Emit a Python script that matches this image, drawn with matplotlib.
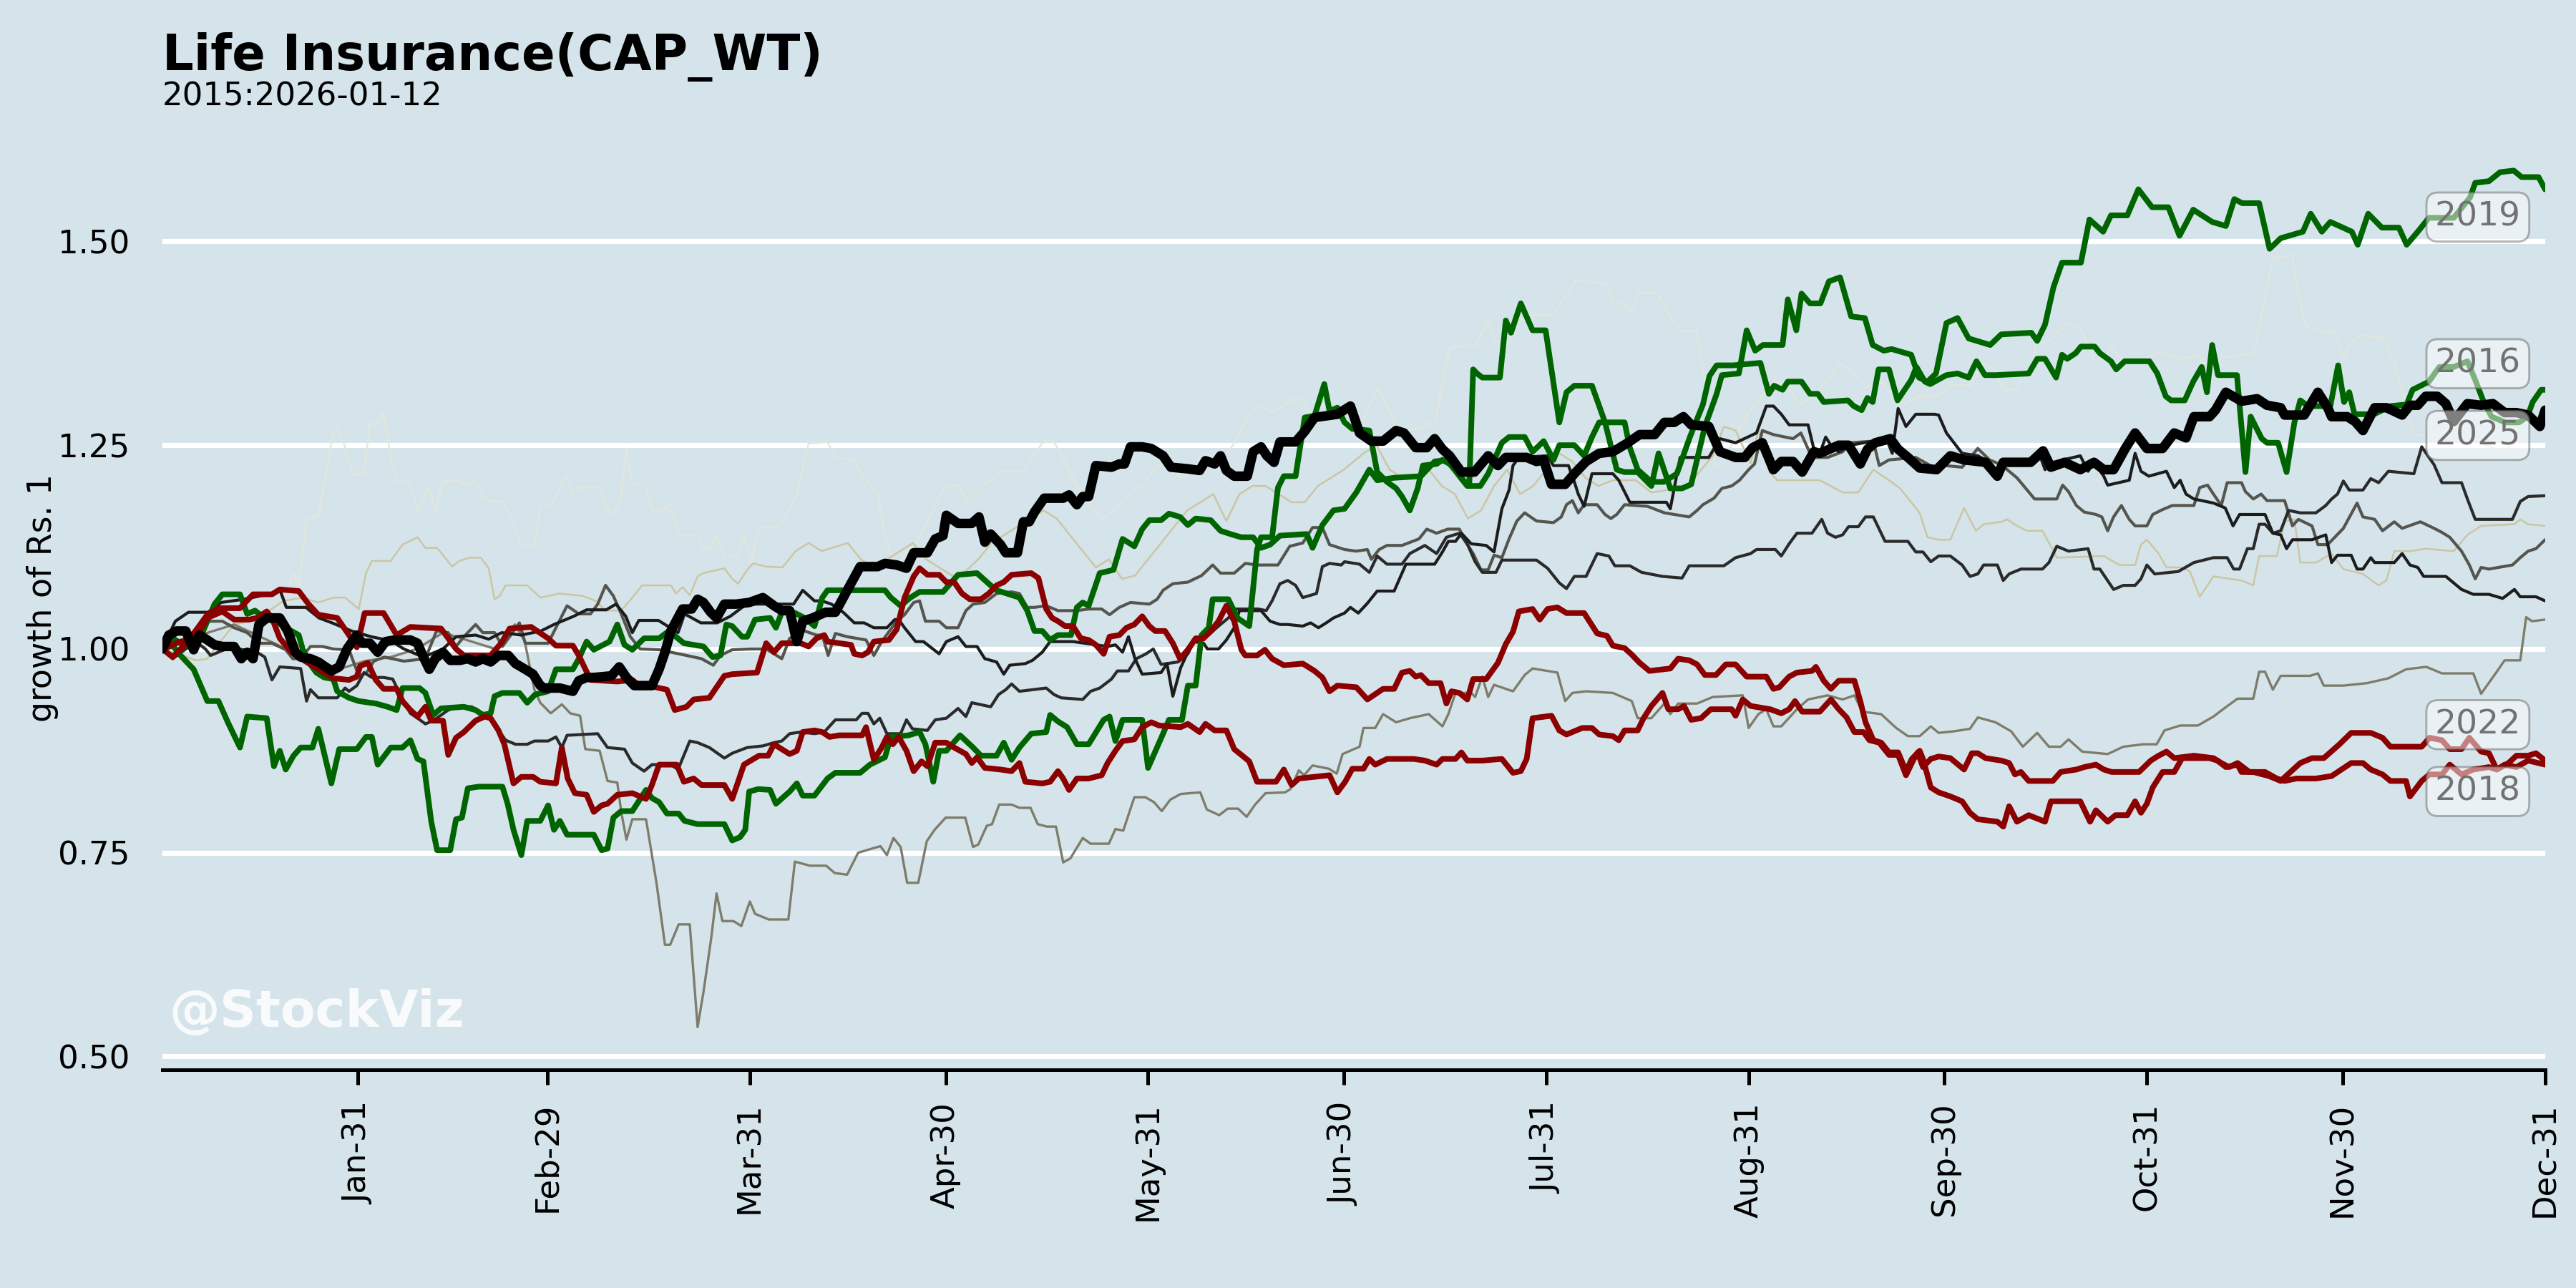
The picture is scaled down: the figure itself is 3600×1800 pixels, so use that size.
import matplotlib.pyplot as plt

bg = '#d5e4eb'

# day-of-year (leap year axis), growth of Rs. 1
s2015 = [(1,1.0),(3,0.99),(6.1,0.984),(7.9,0.992),(12,1.005),(15.5,1.02),(18,1.04),(19.6,1.06),(21.1,1.093),(22,1.078),
         (23.1,1.162),(24.9,1.162),(27,1.258),(27.8,1.273),(29,1.248),(30.2,1.214),(31.9,1.214),(32.8,1.277),(33.7,1.275),
         (34.9,1.29),(36,1.235),(36.9,1.206),(39,1.204),(40.1,1.17),(41.9,1.198),(42.8,1.17),(44,1.206),(46,1.206),(47.2,1.202),
         (49,1.204),(50.1,1.187),(51.3,1.181),(53.1,1.181),(54.8,1.156),(56,1.126),(57.2,1.128),(58,1.126),(58.9,1.175),
         (60.7,1.177),(62.1,1.204),(63,1.212),(63.9,1.191),(64.8,1.198),(68,1.198),(69.2,1.172),(70.1,1.166),(71.3,1.189),
         (72.1,1.246),(73,1.202),(75.1,1.202),(76,1.172),(77.1,1.168),(78.3,1.175),(79.2,1.164),(80.1,1.139),(81.8,1.139),
         (83,1.141),(83.9,1.124),(84.8,1.122),(86,1.137),(87.1,1.114),(88.9,1.114),(90.1,1.139),(91.2,1.105),(92.4,1.149),
         (95.3,1.149),(97.1,1.172),(98.2,1.189),(100,1.252),(102.9,1.254),(104.1,1.235),(107,1.231),(108.2,1.214),(110.6,1.189),
         (111.5,1.147),(112.3,1.122),(113.5,1.101),(114.7,1.114),(116.4,1.13),(118.2,1.156),(119.5,1.18),(121,1.2),(123,1.2),
         (124.4,1.18),(126,1.195),(129.4,1.218),(132.8,1.218),(136.1,1.256),(137.5,1.255),(139,1.235),(140.5,1.21),(142.8,1.18),
         (145,1.16),(147,1.17),(149,1.19),(151,1.2),(153,1.22),(155,1.23),(157,1.21),(159,1.22),(161,1.24),(163,1.23),(165,1.25),
         (167,1.28),(169,1.3),(171,1.29),(173,1.3),(175,1.31),(177,1.29),(179,1.3),(181,1.29),(183,1.3),(185,1.28),(187,1.32),
         (188.6,1.3),(190,1.27),(193,1.27),(196,1.28),(198.2,1.37),(200,1.372),(202,1.372),(204.1,1.4),(205.3,1.378),(207,1.37),
         (208.5,1.4),(210,1.41),(214,1.41),(216.3,1.437),(217.5,1.452),(221,1.45),(222.3,1.448),(223.5,1.42),(224.8,1.427),
         (226,1.415),(227.2,1.437),(230,1.437),(231.8,1.41),(233.5,1.39),(236,1.39),(237.3,1.33),(238.2,1.26),(239,1.225),
         (240,1.227),(242,1.26),(244,1.29),(246,1.31),(248,1.33),(250,1.32),(252,1.3),(254,1.31),(256,1.33),(258,1.35),
         (260,1.34),(262,1.32),(264,1.33),(266,1.31),(268,1.3),(270,1.31),(273,1.31),(275,1.324),(278,1.324),(280,1.35),
         (281.5,1.345),(283,1.318),(285,1.318),(286,1.335),(287.5,1.35),(288,1.375),(289.4,1.375),(293,1.4),(295,1.392),
         (296.9,1.353),(298.4,1.356),(299.6,1.37),(301,1.356),(304.4,1.356),(307,1.363),(310,1.356),(313,1.36),(313.7,1.35),
         (315.5,1.356),(321.3,1.363),(322.5,1.407),(324.3,1.48),(327.3,1.483),(328.2,1.435),(329.4,1.396),(331,1.39),
         (333.9,1.388),(335.1,1.357),(336.3,1.376),(337.8,1.385),(341.1,1.382),(342.9,1.352),(344.1,1.318),(345.9,1.262),
         (350.2,1.262),(352,1.28),(355,1.26),(357,1.25),(360,1.24),(362,1.28),(364,1.3),(366,1.3)]

s2017 = [(1,1.0),(3,0.995),(6.1,0.986),(7.9,0.988),(10,1.01),(12,1.03),(15,1.035),(17,1.045),(19.6,1.059),(22.5,1.063),
         (24.9,1.057),(27.2,1.063),(29,1.063),(31.1,1.049),(32.2,1.093),(33.1,1.108),(36,1.108),(37.8,1.128),(40.1,1.137),
         (41.3,1.124),(43.1,1.124),(45.4,1.101),(46.5,1.108),(48.1,1.112),(49.8,1.112),(51,1.099),(51.9,1.061),(52.7,1.065),
         (53.6,1.078),(56.9,1.078),(58.9,1.063),(61.9,1.068),(65.4,1.065),(67.4,1.059),(68.9,1.047),(71.3,1.047),(73,1.063),
         (74.5,1.078),(78.9,1.078),(79.7,1.068),(80.7,1.076),(81.8,1.066),(83,1.089),(83.9,1.093),(87.1,1.099),(88.3,1.086),
         (89.2,1.08),(90.6,1.097),(91.5,1.105),(93.5,1.101),(96,1.1),(98,1.12),(100,1.13),(102,1.12),(104,1.125),(106,1.13),
         (108,1.11),(110,1.1),(112,1.11),(114,1.12),(116,1.13),(118,1.11),(120,1.1),(122,1.09),(124,1.095),(126,1.11),
         (128,1.13),(130,1.14),(132,1.15),(134,1.16),(136,1.17),(138,1.16),(140,1.14),(142,1.12),(144,1.1),(146,1.11),
         (148,1.086),(150,1.09),(152,1.11),(154,1.13),(156,1.15),(158,1.17),(160,1.18),(162,1.19),(164,1.157),(166,1.19),
         (168,1.2),(170,1.2),(172,1.19),(174,1.18),(176,1.18),(178,1.2),(180,1.21),(182,1.22),(185,1.24),(187,1.25),(189,1.22),
         (191,1.21),(193,1.21),(195,1.22),(197,1.2),(199,1.19),(201,1.16),(203,1.17),(205,1.2),(207,1.22),(209,1.19),(211,1.2),
         (213,1.22),(215,1.24),(217,1.23),(219,1.21),(221,1.2),(223.2,1.207),(226.7,1.207),(229.1,1.192),(233.2,1.197),
         (234.9,1.202),(238.5,1.237),(240.2,1.273),(242,1.268),(244.3,1.228),(245.5,1.268),(247.2,1.217),(248.4,1.207),
         (254.9,1.207),(258.4,1.192),(260.8,1.192),(263.1,1.22),(265.5,1.207),(267.2,1.197),(270.2,1.167),(271.4,1.137),
         (273.1,1.134),(274.9,1.134),(277,1.173),(278.8,1.145),(280,1.153),(282.7,1.156),(283.6,1.159),(285.1,1.151),
         (286.6,1.145),(289,1.145),(290.3,1.126),(291.2,1.112),(298.4,1.114),(300.8,1.103),(303.2,1.103),(304.1,1.128),
         (305,1.134),(306.8,1.117),(308,1.1),(310.4,1.1),(311.6,1.095),(313.1,1.064),(315.2,1.089),(319.5,1.084),(321.3,1.078),
         (322.2,1.114),(324.9,1.114),(326.1,1.156),(327.6,1.159),(328.5,1.106),(330.9,1.106),(333.3,1.117),(335.1,1.098),
         (338.1,1.092),(340.5,1.078),(341.7,1.084),(342.9,1.12),(345.3,1.12),(347.7,1.123),(352,1.12),(354.1,1.14),
         (356.2,1.151),(361.3,1.153),(362.2,1.159),(363.4,1.153),(366,1.151)]

s2020 = [(1,1.0),(4,1.01),(8,1.02),(12,1.03),(16,1.015),(20,1.0),(24,0.99),(28,0.975),(32,0.985),(36,0.99),(40,1.0),
         (44,1.02),(48,1.01),(52,1.0),(55,1.03),(56.5,1.01),(58,0.95),(58.9,0.934),(60.5,0.921),(62.2,0.932),(63.5,0.921),
         (65,0.918),(65.8,0.877),(68,0.875),(69.2,0.838),(70.7,0.836),(71.3,0.8),(72.1,0.766),(73,0.791),(75.1,0.791),
         (76.7,0.713),(78,0.637),(78.8,0.637),(80.1,0.662),(81.8,0.662),(83,0.536),(83.9,0.579),(85.1,0.646),(85.9,0.7),
         (86.8,0.666),(88.5,0.666),(89.7,0.66),(91,0.69),(91.8,0.675),(93.9,0.668),(96.9,0.668),(97.9,0.739),(100.2,0.734),
         (102.7,0.734),(104,0.725),(105.9,0.723),(107.6,0.75),(111,0.758),(112,0.747),(113,0.768),(114.1,0.757),(115.1,0.713),
         (116.8,0.713),(118.1,0.764),(119.3,0.778),(121,0.793),(124,0.793),(125.2,0.757),(126,0.76),(127.3,0.783),(128.1,0.785),
         (129.2,0.809),(131.1,0.809),(132.3,0.805),(134,0.805),(135.1,0.785),(136.5,0.782),(137.9,0.782),(139,0.738),
         (140.1,0.743),(142,0.768),(143.2,0.761),(146,0.761),(147,0.779),(148.2,0.777),(149.9,0.818),(151.6,0.818),
         (152.9,0.812),(154.1,0.801),(155.4,0.815),(157,0.822),(160,0.824),(161,0.803),(162.9,0.796),(164.2,0.804),
         (165.8,0.804),(167.1,0.794),(168.4,0.809),(170,0.823),(173,0.824),(173.8,0.828),(175.1,0.851),(175.9,0.845),
         (177.2,0.857),(179.7,0.853),(180.9,0.847),(181.8,0.871),(184.4,0.88),(185,0.903),(186.8,0.903),(188,0.92),(190,0.91),
         (192.1,0.915),(195,0.92),(197.1,0.905),(198,0.92),(199.1,0.946),(201.5,0.946),(202.1,0.941),(203.2,0.966),
         (204.1,0.941),(205,0.956),(207.9,0.948),(209.7,0.968),(210.9,0.976),(214.7,0.971),(215.9,0.936),(217,0.946),
         (219.1,0.948),(223.2,0.946),(226.1,0.936),(227,0.915),(229.1,0.915),(231.1,0.933),(232,0.92),(233.2,0.933),
         (236.1,0.933),(238.5,0.941),(243.1,0.943),(244,0.903),(245.5,0.92),(246.7,0.926),(247.8,0.905),(249,0.905),
         (251.4,0.926),(253.1,0.938),(256.1,0.943),(258.4,0.938),(260.2,0.943),(261.4,0.923),(264.3,0.92),(266.6,0.903),
         (268.4,0.893),(270.2,0.893),(271.9,0.905),(273.1,0.897),(275.5,0.899),(277.9,0.902),(279.1,0.916),(281.8,0.91),
         (284.2,0.899),(286,0.88),(288.2,0.897),(290,0.88),(291.8,0.88),(293,0.889),(295.1,0.874),(299,0.871),(301.4,0.88),
         (304.4,0.883),(306.5,0.883),(307.7,0.9),(310.1,0.906),(312.8,0.906),(315.2,0.917),(317,0.928),(318.9,0.939),
         (321.3,0.939),(322.2,0.972),(323.1,0.972),(324.3,0.95),(325.5,0.967),(330,0.967),(331.2,0.97),(332.1,0.955),
         (335.1,0.955),(338.7,0.958),(342,0.964),(344.7,0.975),(347.8,0.978),(350.2,0.97),(355,0.97),(356.2,0.945),
         (358.6,0.972),(359.8,0.986),(362.2,0.986),(363.1,1.039),(364,1.034),(366,1.036)]

s2021 = [(1,1.0),(4,1.01),(7.9,1.034),(10.2,1.034),(12,1.026),(14,1.02),(15.8,1.007),(17.8,1.007),(19.9,0.999),(21,0.988),
         (22.2,0.988),(23.7,1.003),(25.5,1.003),(27.2,1.0),(29.6,0.999),(31.1,0.967),(32.2,0.97),(33.4,0.985),(35,0.99),
         (38,0.985),(41.3,0.988),(43,1.022),(44.8,1.02),(46,1.003),(47.2,1.015),(49,1.03),(50.1,1.02),(51.9,1.02),(53.1,1.003),
         (54.2,1.015),(55.7,1.032),(56.6,1.007),(60.1,1.007),(61.3,1.026),(63,1.053),(64.8,1.043),(66.6,1.043),(67.7,1.055),
         (68.9,1.078),(70.1,1.065),(71.3,1.043),(72.7,1.015),(74.2,1.0),(77.1,0.999),(78.9,0.996),(81.3,0.992),(83.6,0.988),
         (85.4,0.98),(86.5,0.992),(88.3,0.999),(91.2,1.0),(93.5,1.0),(95.9,0.988),(97.1,1.013),(99.4,1.022),(101.2,1.017),
         (102.1,1.017),(103,0.992),(104.1,1.019),(105.9,1.015),(108.8,1.011),(110,0.992),(111.2,1.009),(113.5,1.034),
         (114.7,1.042),(116.1,1.057),(117,1.059),(117.9,1.034),(120,1.034),(121.1,1.026),(122.9,1.026),(124.1,1.047),
         (125.2,1.055),(127,1.057),(128.8,1.068),(131.1,1.07),(132.3,1.068),(133.5,1.051),(134.6,1.051),(136.4,1.053),
         (138.2,1.047),(141.1,1.047),(142.9,1.049),(144.9,1.049),(146.1,1.042),(147.6,1.051),(149.3,1.057),(152.2,1.055),
         (153.4,1.061),(154.3,1.072),(155.8,1.08),(158.1,1.082),(160.2,1.09),(161.9,1.103),(163.1,1.093),(165.2,1.093),
         (166.9,1.105),(168.7,1.103),(171.9,1.103),(173.7,1.126),(175.7,1.13),(177.2,1.149),(178.7,1.149),(179.8,1.128),
         (182.1,1.122),(183.9,1.12),(185.6,1.122),(186.2,1.11),(187.4,1.122),(188.6,1.127),(190.9,1.127),(193.5,1.135),
         (194.7,1.147),(196.2,1.142),(197.9,1.147),(199.7,1.147),(200.6,1.132),(201.8,1.117),(203,1.097),(204.1,1.097),
         (205,1.115),(206.2,1.112),(207.3,1.135),(208.5,1.157),(209.7,1.167),(211.5,1.157),(214.1,1.155),(215.3,1.162),
         (216.1,1.177),(217,1.182),(217.9,1.167),(218.8,1.177),(220.8,1.177),(222,1.165),(222.9,1.16),(223.8,1.165),
         (225,1.177),(228.5,1.175),(231.1,1.167),(234.9,1.162),(236.1,1.17),(237,1.177),(238.7,1.185),(239.9,1.197),
         (241.4,1.2),(242.6,1.207),(244,1.22),(244.9,1.227),(246.1,1.268),(247.8,1.263),(250.8,1.258),(252,1.265),
         (253.7,1.235),(256.1,1.235),(258.4,1.242),(259.6,1.253),(263.1,1.255),(264,1.225),(265.5,1.232),(269.6,1.235),
         (272.5,1.222),(274.1,1.225),(276.7,1.223),(279.1,1.246),(280.9,1.232),(282.7,1.226),(285.1,1.21),(287.8,1.184),
         (291.2,1.184),(292.1,1.201),(293,1.193),(294.2,1.176),(295.4,1.168),(297.2,1.165),(298.1,1.162),(299,1.145),
         (299.9,1.162),(301.1,1.176),(302.3,1.159),(303.2,1.151),(305,1.151),(305.9,1.165),(307.4,1.171),(308.9,1.176),
         (312.2,1.176),(313.1,1.198),(314.3,1.201),(315.2,1.19),(316.4,1.176),(317.3,1.204),(319.5,1.204),(320.1,1.193),
         (321.3,1.184),(322.5,1.19),(323.4,1.182),(326.1,1.182),(327.3,1.151),(328.2,1.159),(330.3,1.151),(331.2,1.128),
         (332.7,1.128),(335.1,1.148),(337.2,1.179),(338.1,1.162),(339.9,1.159),(341.1,1.145),(342.9,1.156),(344.1,1.148),
         (346.9,1.156),(349,1.148),(350.2,1.143),(351.4,1.137),(353.2,1.12),(354.4,1.103),(355.3,1.086),(356.2,1.1),
         (357.4,1.098),(361,1.103),(362.2,1.112),(363.4,1.12),(364.6,1.123),(366,1.134)]

s2023 = [(1,1.0),(2.6,0.988),(4.6,1.0),(6.1,1.009),(7.6,1.0),(8.4,0.992),(10.8,1.0),(12.9,1.0),(15.5,0.996),(16.7,0.99),
         (17.8,0.962),(19,0.978),(22.2,0.976),(23.1,0.936),(23.7,0.95),(24.9,0.94),(27.8,0.94),(29,0.952),(29.6,0.948),
         (30.8,0.955),(31.9,0.971),(33.1,0.965),(34.9,0.965),(36.3,0.963),(37.8,0.938),(39,0.921),(40.1,0.915),(41.3,0.908),
         (42.5,0.912),(44.8,0.925),(46.6,0.929),(48.4,0.929),(50.1,0.921),(51.3,0.917),(52.5,0.9),(53.6,0.888),(55.1,0.883),
         (56.9,0.883),(58,0.887),(60.1,0.887),(61.3,0.892),(62.2,0.879),(63,0.894),(67.7,0.896),(69.2,0.879),(71.8,0.877),
         (73,0.86),(74.8,0.85),(76,0.858),(78.9,0.858),(80,0.852),(81.8,0.887),(83,0.885),(84.8,0.879),(87.1,0.866),
         (88.3,0.872),(90.6,0.879),(93,0.881),(94.7,0.885),(95.9,0.887),(97.1,0.896),(98.8,0.898),(100.9,0.896),(102.4,0.898),
         (104.1,0.913),(107.3,0.913),(108.2,0.921),(109.1,0.921),(110,0.908),(110.9,0.915),(112,0.896),(114.1,0.896),
         (115,0.913),(115.9,0.902),(118.2,0.9),(119.4,0.913),(121.1,0.915),(122.9,0.927),(124.1,0.917),(125,0.934),
         (127.9,0.929),(129.1,0.944),(130.2,0.95),(131.1,0.957),(132.3,0.948),(136.4,0.952),(137.6,0.944),(138.7,0.94),
         (142,0.938),(143.2,0.948),(144.6,0.952),(146.4,0.963),(147.3,0.973),(149,0.973),(150.2,0.988),(151.7,0.994),
         (152.8,1.0),(154,0.981),(156.6,0.984),(158.1,0.994),(159.3,1.013),(161.3,1.017),(162.5,1.026),(164.3,1.038),
         (165.5,1.049),(168.9,1.049),(170.1,1.047),(171,1.059),(172.2,1.08),(173.4,1.084),(174.6,1.078),(175.7,1.063),
         (177.8,1.068),(178.7,1.101),(179.8,1.105),(181.6,1.103),(182.1,1.107),(184.4,1.104),(185.9,1.094),(187.1,1.114),
         (188.6,1.104),(190.9,1.104),(192.1,1.117),(194.4,1.127),(196.2,1.117),(197.7,1.137),(199.7,1.142),(200.9,1.129),
         (202.1,1.107),(203.2,1.094),(205.3,1.094),(206.2,1.109),(211.5,1.109),(213.2,1.099),(215,1.081),(216.1,1.074),
         (217.3,1.089),(219.1,1.089),(220.8,1.117),(222.6,1.114),(223.5,1.102),(225.8,1.102),(227.6,1.094),(230.8,1.089),
         (233.8,1.087),(234.9,1.102),(240.2,1.102),(242,1.112),(244.3,1.117),(245.2,1.122),(248.1,1.122),(249,1.114),
         (250.2,1.129),(251.4,1.142),(253.7,1.142),(255.2,1.159),(256.1,1.142),(257.3,1.137),(258.4,1.14),(259.3,1.15),
         (260.8,1.15),(261.9,1.162),(263.1,1.162),(264.9,1.132),(268.4,1.132),(269.6,1.119),(270.7,1.119),(271.9,1.107),
         (273.1,1.114),(274.9,1.114),(276.7,1.103),(277.9,1.089),(279.1,1.092),(280,1.103),(282.1,1.103),(283,1.084),
         (283.9,1.092),(285.7,1.098),(289,1.098),(290,1.106),(291.2,1.126),(293,1.12),(296,1.123),(296.9,1.098),(297.8,1.098),
         (299.9,1.073),(301.4,1.078),(303.2,1.078),(304.1,1.086),(305,1.103),(306.2,1.092),(309.8,1.095),(312.2,1.106),
         (315.2,1.112),(317.3,1.112),(318.3,1.098),(319.2,1.098),(320.4,1.123),(321.3,1.123),(322.2,1.153),(323.1,1.153),
         (324.3,1.142),(325.5,1.145),(326.7,1.17),(328.5,1.167),(330.9,1.167),(332.4,1.176),(333.3,1.184),(334.2,1.19),
         (335.1,1.206),(336,1.195),(338.1,1.195),(339.3,1.209),(340.5,1.204),(342,1.218),(345.9,1.215),(347.1,1.248),
         (349,1.226),(350.2,1.204),(353.2,1.204),(354.1,1.184),(355.3,1.159),(361,1.159),(362.2,1.181),(363.4,1.187),
         (366,1.188)]

s2024 = [(1,1.0),(3,1.034),(5,1.045),(8,1.045),(10,1.057),(13.5,1.061),(17.8,1.068),(19,1.073),(20,1.051),(23,1.051),
         (25,1.038),(27,1.032),(30,1.022),(33,1.015),(36,1.01),(38,1.0),(41,0.99),(44,1.0),(46,1.015),(49,1.017),(51,1.012),
         (53,1.02),(56,1.017),(59,1.022),(61,1.03),(64,1.04),(66,1.048),(69,1.048),(70.5,1.055),(72,1.04),(73,1.02),(74,1.035),
         (77,1.035),(79,1.025),(80,1.02),(81,1.043),(83.5,1.032),(86,1.032),(88,1.04),(90.5,1.055),(95.9,1.055),(97.7,1.055),
         (99.1,1.072),(100.9,1.059),(102,1.059),(103.5,1.055),(105.3,1.045),(107,1.032),(108.5,1.032),(110,1.026),(112,1.026),
         (113.2,1.036),(113.8,1.036),(114.7,1.026),(116.4,1.009),(117.6,1.009),(120,0.994),(121.1,1.009),(122.9,1.015),
         (124.1,1.003),(125.8,1.003),(127,0.988),(128.8,0.984),(129.9,0.969),(130.8,0.98),(133.2,0.982),(134.3,0.986),
         (135.8,0.996),(137,1.009),(140.5,1.009),(142.3,1.007),(145.8,1.003),(147,1.005),(148.1,0.996),(149,1.015),(150,0.988),
         (151.1,0.969),(154,0.971),(154.9,0.982),(155.8,0.942),(157,0.977),(158.1,0.996),(159,1.009),(160.5,1.007),(161.1,1.0),
         (162.8,1.0),(164,1.011),(165.2,1.026),(166,1.047),(169.3,1.047),(170.7,1.034),(172.2,1.03),(173.4,1.03),(175.7,1.028),
         (176.9,1.032),(178.1,1.026),(179.3,1.032),(180.4,1.038),(182.1,1.044),(183,1.051),(184.2,1.044),(185.6,1.056),
         (187.1,1.071),(189.7,1.071),(191.5,1.104),(195.9,1.104),(197.1,1.119),(198,1.132),(199.1,1.132),(200,1.142),
         (201.5,1.129),(203.8,1.127),(205,1.119),(206.2,1.172),(207.3,1.195),(207.9,1.225),(208.8,1.235),(213.2,1.237),
         (214.1,1.225),(216.4,1.225),(217.3,1.205),(217.9,1.19),(218.8,1.175),(220,1.215),(223.2,1.215),(224.1,1.207),
         (225.8,1.18),(231.4,1.18),(232,1.172),(233.5,1.235),(237.9,1.235),(239.6,1.258),(242,1.253),(245.2,1.265),
         (246.7,1.298),(247.8,1.298),(249,1.288),(250.2,1.275),(253.1,1.275),(254,1.245),(254.9,1.24),(255.8,1.26),
         (256.6,1.25),(257.8,1.242),(259.6,1.25),(265.1,1.258),(266,1.24),(266.9,1.295),(268.1,1.273),(269.6,1.288),
         (272.5,1.288),(273.1,1.287),(274.3,1.265),(276.7,1.24),(279.1,1.237),(280.9,1.229),(281.8,1.212),(283,1.229),
         (287.5,1.229),(288.5,1.24),(289.4,1.22),(290.6,1.229),(294.8,1.237),(296,1.218),(296.9,1.229),(298.4,1.212),
         (299,1.201),(302.3,1.207),(303.2,1.24),(304.1,1.218),(305.3,1.212),(308,1.218),(309.2,1.198),(310.1,1.207),
         (311,1.19),(312.2,1.184),(315.2,1.179),(317,1.173),(318.2,1.151),(319.2,1.165),(323.1,1.165),(324.3,1.142),
         (325.5,1.14),(326.4,1.123),(327.3,1.134),(330.3,1.134),(332.4,1.14),(333.3,1.106),(334.2,1.115),(336.3,1.115),
         (337.2,1.098),(338.1,1.098),(339.3,1.112),(339.9,1.106),(342.9,1.106),(344.1,1.117),(345.3,1.103),(346.5,1.1),
         (347.4,1.089),(350.8,1.089),(353.2,1.073),(355,1.067),(357.4,1.067),(359.5,1.062),(361.3,1.073),(362.2,1.064),
         (364.6,1.064),(366,1.059)]

s2016 = [(1,1.0),(2.6,1.013),(3.8,1.007),(6.1,1.0),(9,1.055),(10.2,1.067),(12.9,1.067),(14,1.043),(15.2,1.047),(17,1.036),
         (18.4,1.034),(19.9,1.026),(21.9,1.017),(22.5,1.0),(23.4,0.984),(24.6,0.971),(25.8,0.965),(27.2,0.963),(27.8,0.948),
         (29.6,0.94),(31.1,0.936),(33.7,0.933),(35.5,0.929),(36.9,0.925),(37.8,0.952),(40.4,0.952),(41.3,0.946),(42.5,0.919),
         (43.7,0.927),(47.2,0.929),(49,0.925),(50.1,0.919),(51.3,0.921),(51.9,0.942),(53.1,0.946),(55.7,0.946),(56.9,0.934),
         (58.1,0.944),(60.1,0.948),(61.3,0.975),(63.9,0.975),(64.8,0.988),(66,1.009),(67.1,0.999),(69.5,1.009),(70.7,1.03),
         (71.8,1.005),(73,0.999),(74.8,1.013),(77.1,1.013),(78.6,1.022),(80.9,1.007),(83.9,1.003),(85.3,0.99),(86.5,0.992),
         (87.4,1.03),(88.3,1.028),(89.8,1.015),(90.6,1.015),(91.8,1.036),(94.1,1.038),(95,1.026),(95.9,1.045),(97.7,1.045),
         (99.4,1.038),(100.9,1.028),(102.1,1.063),(102.9,1.072),(111.7,1.072),(112.6,1.063),(114.1,1.053),(115.6,1.063),
         (117,1.07),(120.6,1.07),(122.9,1.091),(125.8,1.093),(127.6,1.08),(128.8,1.072),(132.3,1.063),(133.5,1.047),
         (134.6,1.022),(135.8,1.022),(137,1.011),(138.2,1.017),(140.2,1.017),(141.1,1.051),(142,1.057),(142.9,1.053),
         (144.6,1.093),(146.7,1.097),(148.1,1.135),(149.9,1.126),(151.1,1.147),(152.2,1.158),(154,1.158),(155.2,1.166),
         (156.9,1.162),(158.1,1.152),(159.3,1.16),(161.6,1.158),(163.1,1.145),(164.6,1.141),(166.3,1.137),(168.1,1.137),
         (169.3,1.124),(170.7,1.128),(172.2,1.139),(176.3,1.141),(177.2,1.124),(178.7,1.152),(180.4,1.17),(182.1,1.172),
         (183.9,1.192),(185.9,1.22),(187.1,1.207),(189.7,1.21),(193.8,1.212),(195.9,1.23),(197.9,1.232),(199.7,1.212),
         (200.9,1.2),(202.9,1.2),(204.1,1.215),(206.2,1.253),(207.3,1.26),(209.7,1.26),(210.9,1.242),(212.6,1.255),
         (214.1,1.232),(215,1.25),(217.3,1.25),(218.8,1.237),(220,1.26),(221.1,1.278),(225,1.278),(225.8,1.247),(227,1.22),
         (229.1,1.205),(231,1.205),(233,1.215),(235,1.26),(237,1.3),(238,1.335),(239.1,1.348),(241.6,1.348),(245.8,1.351),
         (247.1,1.313),(247.9,1.323),(249.2,1.318),(250,1.328),(252.1,1.328),(253.4,1.313),(254.6,1.313),(255.5,1.303),
         (259.2,1.305),(260.1,1.298),(261.3,1.293),(262.2,1.308),(263,1.303),(263.9,1.343),(265.5,1.343),(266.8,1.305),
         (268.9,1.33),(269.7,1.346),(271,1.328),(271.8,1.325),(274.3,1.336),(276,1.338),(277.7,1.333),(278.9,1.353),
         (280.2,1.336),(281.9,1.336),(286.9,1.338),(288.2,1.356),(289.4,1.356),(291.1,1.333),(292,1.361),(292.8,1.356),
         (294.1,1.363),(294.9,1.371),(297,1.371),(297.8,1.363),(299.5,1.353),(300.3,1.343),(301.6,1.353),(305.4,1.353),
         (306.6,1.338),(307.9,1.31),(308.7,1.305),(310.8,1.305),(312.1,1.328),(313.4,1.346),(314.2,1.315),(315,1.373),
         (315.9,1.336),(318.8,1.336),(320.1,1.217),(320.9,1.285),(322.6,1.258),(323.4,1.253),(325.1,1.253),(326.4,1.217),
         (327.6,1.278),(328.5,1.305),(329.7,1.298),(333.1,1.298),(334.3,1.348),(335.2,1.303),(336,1.315),(336.8,1.288),
         (339.8,1.288),(342.3,1.298),(344.8,1.3),(345.7,1.318),(348.2,1.328),(349.8,1.346),(352,1.346),(354.1,1.353),
         (355.3,1.33),(356.6,1.303),(357.8,1.285),(359.9,1.278),(362,1.278),(363.3,1.285),(364.1,1.303),(365.4,1.318),
         (366,1.318)]

s2019 = [(1,1.0),(2.6,1.004),(3.8,0.992),(5.8,0.975),(7.9,0.936),(9.6,0.936),(11.1,0.909),(12.9,0.879),(14,0.917),(17,0.915),
         (18.1,0.856),(19,0.875),(19.9,0.852),(21.1,0.869),(22.2,0.879),(24,0.879),(24.9,0.902),(26.9,0.835),(28.1,0.877),
         (30.8,0.877),(32.2,0.892),(33.1,0.892),(34,0.858),(36,0.879),(37.8,0.879),(39,0.888),(40.1,0.865),(41,0.862),
         (42.2,0.788),(43.1,0.753),(45.1,0.753),(46,0.791),(46.9,0.793),(47.8,0.829),(49.5,0.831),(53.1,0.831),(53.9,0.81),
         (54.8,0.778),(56,0.747),(56.9,0.789),(58.9,0.789),(60.1,0.808),(61,0.778),(61.9,0.789),(63,0.772),(67.1,0.772),
         (68.3,0.753),(69.2,0.755),(70.1,0.793),(71.3,0.801),(73,0.801),(75.1,0.827),(76,0.817),(77.1,0.812),(78.3,0.798),
         (80.1,0.798),(81,0.789),(83,0.785),(87.1,0.785),(88.3,0.765),(89.5,0.769),(90.3,0.778),(90.9,0.825),(92.3,0.828),
         (94.1,0.827),(95,0.81),(97.1,0.825),(98.2,0.835),(99.1,0.82),(100.9,0.82),(102.9,0.841),(104.1,0.848),(107.9,0.848),
         (109.4,0.858),(111.7,0.867),(112.6,0.892),(115.3,0.894),(117,0.898),(117.9,0.883),(119.1,0.837),(120,0.875),
         (121.1,0.875),(123.2,0.894),(125.2,0.879),(126.4,0.869),(128.8,0.869),(129.9,0.885),(131.1,0.864),(132.3,0.879),
         (134.1,0.896),(136.4,0.898),(137,0.919),(138.2,0.911),(139.6,0.904),(141.1,0.883),(142.9,0.883),(145.2,0.913),
         (146.1,0.917),(147,0.887),(148.1,0.913),(151.1,0.913),(152,0.854),(154.3,0.896),(155.2,0.913),(157.2,0.913),
         (158.1,0.955),(159.3,0.955),(160.2,1.017),(161.3,1.026),(161.9,1.061),(164.3,1.061),(165.7,1.038),(167.5,1.028),
         (168.7,1.122),(169.3,1.137),(171,1.137),(171.9,1.198),(172.8,1.212),(174.6,1.212),(176,1.284),(177.5,1.286),
         (179,1.325),(179.8,1.292),(181,1.296),(182.1,1.278),(183.3,1.27),(185.9,1.268),(187.1,1.217),(188.6,1.205),(190,1.197),
         (190.9,1.187),(192.1,1.17),(193.3,1.197),(194.1,1.225),(196.2,1.227),(197.1,1.232),(198.2,1.227),(200.3,1.207),
         (201.2,1.2),(201.8,1.343),(202.4,1.338),(203.2,1.333),(205.9,1.333),(206.8,1.403),(207.6,1.388),(209.1,1.424),
         (210.9,1.391),(212.9,1.391),(215,1.278),(216.1,1.315),(217.3,1.323),(220,1.323),(222,1.278),(223.8,1.22),(225,1.217),
         (227,1.217),(229.1,1.2),(230.2,1.24),(232,1.197),(233.8,1.197),(235.2,1.202),(237.3,1.273),(239.1,1.313),
         (239.9,1.336),(242.5,1.338),(243.7,1.391),(245,1.366),(246.2,1.373),(249.2,1.373),(250,1.429),(251.3,1.391),
         (252.1,1.436),(253.4,1.424),(255,1.424),(256.3,1.451),(258,1.456),(259.7,1.408),(261.8,1.406),(263,1.373),
         (264.7,1.366),(265.9,1.368),(268.9,1.361),(270.1,1.333),(271.4,1.328),(272.7,1.338),(274.3,1.4),(276,1.406),
         (277.7,1.381),(281,1.373),(282.7,1.386),(287.3,1.388),(288.2,1.378),(289.4,1.398),(290.7,1.444),(292,1.474),
         (294.9,1.474),(296.2,1.527),(298.3,1.512),(299.5,1.532),(302,1.532),(303.7,1.564),(305.8,1.542),(308.3,1.542),
         (310,1.507),(312.1,1.539),(315,1.524),(317.1,1.519),(318.4,1.552),(319.6,1.547),(322.2,1.547),(323.8,1.491),
         (325.5,1.504),(328.9,1.512),(330.1,1.534),(331.8,1.512),(333.1,1.524),(336.4,1.512),(337.3,1.496),(338.9,1.534),
         (341,1.517),(343.6,1.517),(344.8,1.496),(346.5,1.512),(348.2,1.529),(352,1.529),(354.5,1.554),(355.3,1.572),
         (357.4,1.574),(359.1,1.585),(361.2,1.587),(362.4,1.579),(365,1.579),(366,1.564)]

s2022 = [(1,1.0),(2.6,0.99),(3.8,1.0),(5,1.01),(7.9,1.042),(9.6,1.05),(12.9,1.05),(14.9,1.067),(17.8,1.067),(19,1.073),
         (21.9,1.071),(23.4,1.055),(24.9,1.042),(27.8,1.038),(29.6,1.017),(30.8,1.002),(32,1.044),(34.9,1.044),(36.9,1.017),
         (39,1.027),(43.7,1.025),(46,1.0),(47.2,0.992),(51.3,0.992),(53,1.008),(54.2,1.025),(57.5,1.027),(60.1,1.013),
         (61.3,1.004),(63.9,1.004),(64.8,0.992),(66.6,0.962),(70.7,0.96),(73,0.962),(74.2,0.954),(76,0.954),(78.3,0.95),
         (79.5,0.925),(81.3,0.929),(82.4,0.938),(84.8,0.94),(87.1,0.967),(88.3,0.969),(92.1,0.971),(93.5,1.007),(94.7,0.996),
         (95.9,1.007),(98.8,1.007),(100,1.003),(101.2,1.013),(102.4,1.017),(102.9,1.009),(106.5,1.005),(107,0.994),
         (108.2,0.992),(109.1,0.996),(110,1.009),(112.3,1.011),(113.5,1.024),(114.7,1.063),(116.1,1.089),(117,1.099),
         (118.2,1.091),(120,1.091),(121.1,1.082),(122.3,1.082),(123.5,1.068),(124.7,1.061),(126.4,1.061),(127.6,1.068),
         (128.8,1.078),(129.9,1.082),(131.1,1.091),(134.1,1.093),(135.2,1.087),(136.4,1.049),(137.3,1.038),(138.2,1.034),
         (139.3,1.028),(140.5,1.028),(141.7,1.013),(142.9,1.011),(144,1.005),(145.2,0.994),(146.1,1.015),(147.6,1.017),
         (148.7,1.026),(149.9,1.03),(151.1,1.04),(152.2,1.028),(153.1,1.022),(154.6,1.022),(155.8,1.007),(156.9,0.988),
         (158.1,0.999),(159.3,1.013),(160.5,1.013),(161.6,1.022),(162.8,1.034),(164,1.053),(165.2,1.034),(166.3,0.999),
         (166.9,0.992),(168.7,0.992),(169.9,0.999),(171,0.988),(172.8,0.98),(175.7,0.982),(177.5,0.973),(178.7,0.965),
         (179.8,0.948),(181,0.955),(183.9,0.953),(185.6,0.938),(188,0.951),(189.7,0.951),(190.9,0.971),(192.1,0.973),
         (193,0.966),(193.8,0.968),(195,0.958),(196.8,0.958),(197.7,0.933),(198.5,0.948),(199.7,0.946),(200.9,0.938),
         (201.8,0.963),(203.8,0.963),(205.6,0.983),(206.8,1.006),(207.9,1.021),(208.8,1.046),(210.9,1.049),(212,1.036),
         (213.2,1.049),(214.7,1.051),(216.1,1.044),(218.8,1.044),(220,1.029),(220.8,1.019),(222.3,1.016),(223.2,1.004),
         (225,1.001),(226.1,0.993),(227.3,0.983),(228.8,0.973),(232,0.976),(233.2,0.988),(234.9,0.986),(236.1,0.981),
         (237.3,0.968),(239,0.968),(240.5,0.981),(242,0.981),(243.7,0.966),(246.7,0.966),(247.8,0.951),(248.7,0.953),
         (250.2,0.966),(251.4,0.971),(253.7,0.973),(254.3,0.978),(255.5,0.961),(256.6,0.951),(257.8,0.961),(260.2,0.961),
         (261.1,0.936),(261.9,0.91),(263.1,0.888),(264.3,0.885),(265.5,0.873),(266.9,0.873),(268.1,0.85),(269,0.865),
         (270.2,0.875),(270.7,0.865),(271.9,0.83),(273.1,0.824),(274.9,0.819),(276.7,0.813),(277.9,0.799),(279.1,0.791),
         (282.1,0.788),(283,0.782),(283.9,0.807),(285.1,0.788),(286.9,0.796),(289.4,0.788),(290.3,0.813),(294.8,0.813),
         (296.3,0.788),(297.2,0.802),(299,0.788),(300.2,0.796),(302,0.796),(303.2,0.813),(304.1,0.799),(305,0.81),
         (305.9,0.83),(307.4,0.849),(309.2,0.849),(310.4,0.866),(314.6,0.866),(315.8,0.863),(317.1,0.855),(318.9,0.858),
         (319.5,0.849),(321.3,0.849),(323.7,0.844),(325.5,0.838),(328.5,0.86),(330.3,0.866),(332.1,0.866),(334.5,0.883),
         (336.3,0.897),(339.3,0.897),(341.1,0.891),(342.3,0.88),(347.1,0.88),(348.3,0.891),(350.2,0.888),(351.4,0.877),
         (353.2,0.877),(354.4,0.891),(356.2,0.874),(357.4,0.872),(358.6,0.852),(360.4,0.86),(361.6,0.869),(363.4,0.869),
         (364.6,0.872),(366,0.863)]

s2018 = [(1,1.0),(3.8,1.009),(6.1,1.013),(7.9,1.038),(10.2,1.046),(12,1.036),(14.3,1.036),(15.5,1.038),(17,1.046),
         (17.8,1.038),(19,1.013),(20.8,0.996),(22.5,0.987),(24.9,0.975),(27.2,0.964),(29.6,0.962),(30.8,0.966),(31.3,0.979),
         (32.5,0.983),(33.7,0.962),(34.9,0.951),(36.9,0.951),(37.8,0.936),(39,0.925),(40.1,0.917),(41.3,0.929),(42.2,0.912),
         (44,0.912),(44.8,0.87),(46,0.891),(47.2,0.898),(49,0.912),(50.4,0.917),(51.3,0.915),(52.5,0.9),(53.4,0.883),
         (54.8,0.835),(56,0.843),(57.8,0.843),(58.9,0.837),(61.3,0.835),(62.2,0.879),(63.1,0.841),(64.2,0.823),(66,0.821),
         (67.1,0.8),(68.3,0.808),(69.2,0.81),(70.7,0.821),(73,0.823),(75.1,0.816),(76,0.833),(77.1,0.858),(79.8,0.858),
         (80.9,0.837),(82.4,0.841),(83.6,0.833),(87.1,0.833),(88.3,0.816),(89.2,0.837),(90.1,0.858),(92.4,0.869),(93.8,0.869),
         (94.7,0.883),(95.9,0.877),(97.1,0.871),(98.2,0.875),(99.1,0.898),(100.9,0.9),(102.1,0.898),(103.2,0.892),
         (104.7,0.894),(108.2,0.894),(108.8,0.904),(110,0.864),(111.2,0.879),(112,0.892),(112.9,0.883),(113.8,0.892),
         (115,0.875),(116.1,0.85),(117.3,0.862),(118.2,0.856),(119.4,0.885),(121.1,0.885),(122.3,0.879),(124.1,0.871),
         (125,0.86),(125.8,0.867),(127,0.854),(129.4,0.852),(131.1,0.85),(132.3,0.86),(133.2,0.837),(135.8,0.835),
         (137,0.837),(138.2,0.85),(139,0.841),(139.9,0.827),(141.1,0.841),(142.9,0.841),(144.9,0.845),(145.8,0.86),
         (147,0.875),(148.1,0.887),(149.9,0.889),(151.1,0.904),(152.5,0.91),(153.7,0.906),(157,0.904),(158.1,0.908),
         (159.9,0.898),(160.8,0.908),(162.2,0.9),(164,0.9),(165.2,0.877),(166.6,0.868),(167.5,0.862),(168.7,0.837),
         (171.6,0.837),(172.8,0.852),(174,0.833),(175.1,0.841),(179.8,0.845),(181,0.824),(182.2,0.837),(183.3,0.853),
         (185,0.853),(185.9,0.865),(186.8,0.858),(188.6,0.865),(192.7,0.865),(194.4,0.863),(196.2,0.858),(197.1,0.865),
         (199.1,0.865),(200,0.873),(200.9,0.863),(203.2,0.863),(206.2,0.865),(207.9,0.848),(209.1,0.85),(210,0.865),
         (210.9,0.915),(213.8,0.918),(215,0.9),(216.1,0.895),(218.5,0.903),(220,0.903),(221.1,0.895),(223.2,0.893),
         (224.1,0.888),(225,0.9),(227,0.9),(227.9,0.915),(229.1,0.93),(230.8,0.946),(231.7,0.926),(233.2,0.926),(234.1,0.93),
         (235.2,0.913),(236.7,0.915),(238.2,0.926),(241.4,0.926),(242,0.918),(243.1,0.938),(244.3,0.93),(247.3,0.926),
         (249,0.921),(250.2,0.926),(251.1,0.936),(252.2,0.923),(254.9,0.923),(256.6,0.938),(257.8,0.926),(259,0.916),
         (260.2,0.898),(261.6,0.898),(262.5,0.888),(264,0.885),(265.5,0.87),(266.9,0.87),(268.1,0.845),(269.3,0.865),
         (269.9,0.873),(270.7,0.855),(271.9,0.865),(273.1,0.868),(274.9,0.866),(277,0.852),(278.2,0.872),(279.1,0.872),
         (280.3,0.866),(282.7,0.863),(283.9,0.86),(284.8,0.846),(285.7,0.849),(286.9,0.838),(290.6,0.838),(291.8,0.849),
         (294.2,0.852),(295.4,0.855),(297.2,0.858),(298.4,0.852),(299.6,0.849),(303.8,0.849),(305.6,0.863),(306.8,0.869),
         (308,0.874),(309.2,0.866),(312.2,0.869),(315.2,0.866),(316.4,0.86),(317.6,0.855),(318.9,0.86),(320.7,0.849),
         (323.1,0.849),(324.9,0.841),(326.1,0.838),(327.9,0.841),(330.9,0.841),(333.3,0.844),(336.3,0.86),(338.1,0.86),
         (339.3,0.852),(341.1,0.846),(342.3,0.838),(344.7,0.838),(345.3,0.819),(347.1,0.838),(348.3,0.846),(350.2,0.846),
         (351.4,0.858),(353.2,0.846),(355,0.852),(357.4,0.855),(358.6,0.852),(359.8,0.858),(361.6,0.855),(363.4,0.863),
         (366,0.858)]

s2025 = [(1,1.0),(2,1.017),(3.2,1.022),(4.6,1.022),(5.8,0.999),(6.7,1.017),(7.9,1.011),(9,1.005),(10.2,1.003),(12,1.003),
         (13.1,0.988),(14,0.996),(14.9,0.988),(15.8,1.03),(17,1.038),(19,1.038),(20.2,1.022),(21.4,0.996),(22.2,0.99),
         (23.7,0.988),(24.9,0.984),(26.9,0.973),(28.1,0.978),(29.3,1.0),(30.8,1.017),(31.6,1.007),(32.8,1.007),(34,0.996),
         (35.2,1.009),(36.6,1.011),(39,1.011),(40.1,1.007),(41,0.99),(41.9,0.975),(42.8,0.988),(44,0.996),(45.1,0.986),
         (46.6,0.986),(47.8,0.988),(49,0.984),(50.1,0.988),(51.3,0.984),(52.5,0.992),(54,0.992),(55.1,0.982),(56.6,0.975),
         (57.8,0.969),(58.9,0.955),(59.5,0.952),(61.9,0.952),(63.9,0.948),(64.8,0.961),(66,0.965),(67.1,0.965),(69.8,0.967),
         (71,0.978),(72.1,0.965),(73.3,0.955),(76,0.955),(77.1,0.975),(78,0.996),(78.9,1.022),(80.7,1.049),(82.1,1.049),
         (83,1.061),(83.9,1.057),(85,1.045),(85.9,1.038),(87.1,1.055),(88.9,1.055),(90.9,1.057),(93,1.063),(94.7,1.053),
         (95.9,1.047),(97.1,1.047),(98.2,1.009),(99.1,1.034),(100.6,1.038),(102.6,1.045),(104.1,1.045),(107.9,1.101),
         (110.6,1.101),(111.7,1.105),(113.5,1.103),(115,1.099),(116.1,1.118),(118.2,1.118),(119.4,1.135),(120.6,1.139),
         (121.1,1.164),(122.9,1.154),(125,1.154),(126.1,1.162),(127,1.131),(127.9,1.141),(129.4,1.128),(130.2,1.118),
         (132,1.118),(132.9,1.156),(133.8,1.156),(134.6,1.168),(136.1,1.185),(139,1.185),(139.9,1.189),(141.1,1.177),
         (142,1.187),(142.9,1.187),(144,1.225),(146.4,1.223),(147.6,1.227),(148.4,1.227),(149.3,1.248),(151.1,1.248),
         (152.5,1.246),(154.3,1.237),(155.5,1.223),(158.1,1.221),(159.9,1.219),(160.8,1.231),(162.2,1.227),(163.1,1.237),
         (164,1.219),(165.2,1.212),(167.2,1.212),(168.1,1.242),(169.3,1.248),(170.2,1.237),(171.3,1.229),(172.2,1.254),
         (174.6,1.254),(176,1.267),(177.5,1.284),(179.3,1.286),(181,1.288),(183,1.298),(184.4,1.265),(186.2,1.255),
         (188,1.255),(190,1.268),(191.2,1.265),(193,1.247),(194.7,1.247),(195.9,1.258),(197.1,1.245),(198.2,1.237),(200,1.217),
         (202,1.217),(204.1,1.237),(205.6,1.225),(206.8,1.235),(210,1.235),(211.5,1.23),(212.6,1.232),(213.8,1.202),
         (215.9,1.202),(217.3,1.215),(219.1,1.23),(221.1,1.24),(223.2,1.242),(225.5,1.253),(227.3,1.263),(229.6,1.263),
         (231.1,1.278),(232.6,1.278),(234,1.285),(235.2,1.275),(237.9,1.273),(239.6,1.242),(242,1.235),(243.4,1.235),
         (244.6,1.247),(246.1,1.253),(247.8,1.22),(249,1.23),(250.8,1.23),(252.2,1.217),(254,1.242),(254.9,1.24),(257.8,1.25),
         (259.3,1.25),(261.1,1.227),(262.2,1.245),(263.4,1.253),(265.7,1.258),(266.9,1.245),(268.4,1.235),(270.2,1.222),
         (272.8,1.22),(274.9,1.237),(277,1.232),(280.3,1.229),(282.1,1.212),(283,1.229),(287.2,1.229),(289.1,1.243),
         (290.3,1.223),(292.4,1.229),(294.8,1.22),(296.9,1.229),(298.4,1.22),(299.9,1.22),(301.7,1.246),(303.2,1.265),
         (305,1.246),(307.4,1.246),(309.2,1.265),(311,1.259),(312.2,1.285),(314.6,1.285),(315.5,1.293),(317.1,1.315),
         (319.5,1.304),(321.9,1.307),(323.4,1.299),(325.5,1.296),(326.1,1.287),(329.1,1.287),(331.2,1.315),(332.7,1.296),
         (333.3,1.285),(335.7,1.285),(336.9,1.279),(338.1,1.268),(339.9,1.296),(341.7,1.296),(344.1,1.287),(345.3,1.299),
         (346.5,1.299),(347.7,1.31),(349.5,1.31),(350.8,1.301),(352,1.279),(354.1,1.301),(356.2,1.299),(358,1.301),
         (359.8,1.29),(361.6,1.29),(363.4,1.287),(365.2,1.273),(366,1.293)]

tick_days = [31, 60, 91, 121, 152, 182, 213, 244, 274, 305, 335, 366]
tick_labels = ['Jan-31', 'Feb-29', 'Mar-31', 'Apr-30', 'May-31', 'Jun-30',
               'Jul-31', 'Aug-31', 'Sep-30', 'Oct-31', 'Nov-30', 'Dec-31']
label_years = ['2019', '2016', '2025', '2022', '2018']

# year, points, colour, width
lines = [
    (2015, s2015, '#e2e7dd', 0.55),
    (2017, s2017, '#cbc6a2', 0.6),
    (2020, s2020, '#7e7c6a', 0.8),
    (2021, s2021, '#55554d', 1.0),
    (2023, s2023, '#2a2a2a', 1.0),
    (2024, s2024, '#1c1c1c', 1.0),
    (2016, s2016, '#006400', 1.9),
    (2019, s2019, '#006400', 1.9),
    (2022, s2022, '#8b0000', 1.9),
    (2018, s2018, '#8b0000', 1.9),
    (2025, s2025, '#000000', 3.2),
]

fig = plt.figure(figsize=(12, 6), dpi=300)
fig.patch.set_facecolor(bg)
ax = fig.add_axes([0.063, 0.1697, 0.925, 0.7314])
ax.set_facecolor(bg)

for yr, pts, col, lw in lines:
    d = [p[0] for p in pts]
    v = [p[1] for p in pts]
    ax.plot(d, v, color=col, lw=lw, solid_joinstyle='round', solid_capstyle='round', zorder=3)

ax.set_xlim(1, 366)
ax.set_ylim(0.484, 1.64)
ax.set_yticks([0.5, 0.75, 1.0, 1.25, 1.5])
ax.set_yticklabels(['0.50', '0.75', '1.00', '1.25', '1.50'])
ax.set_xticks(tick_days)
ax.set_xticklabels(tick_labels, rotation=90)
ax.grid(axis='y', color='white', lw=1.7)
ax.grid(axis='x', visible=False)
ax.set_axisbelow(True)
for sp in ['left', 'right', 'top']:
    ax.spines[sp].set_visible(False)
ax.spines['bottom'].set_color('black')
ax.spines['bottom'].set_linewidth(1.2)
ax.tick_params(axis='y', length=0, pad=11, labelsize=10.8)
ax.tick_params(axis='x', length=5, width=1.2, pad=6, labelsize=10.8, direction='out')

# labels at the right end (ggrepel-like boxes)
label_y = [1.530, 1.350, 1.262, 0.907, 0.825]
for txt, yy in zip(label_years, label_y):
    ax.text(355.7, yy, txt, ha='center', va='center', fontsize=11.3, color='#727272', zorder=5,
            bbox=dict(boxstyle='round,pad=0.25,rounding_size=0.35', fc='white', ec='#6a6a6a', lw=0.7, alpha=0.5))

ax.text(0.003, 0.06, '@StockViz', transform=ax.transAxes, fontsize=17, fontweight='bold',
        color='white', alpha=0.85, ha='left', va='center', zorder=6)

fig.text(0.063, 0.956, 'Life Insurance(CAP_WT)', fontsize=16.5, fontweight='bold', va='center', ha='left')
fig.text(0.063, 0.925, '2015:2026-01-12', fontsize=10.8, va='center', ha='left')
fig.text(0.0165, 0.536, 'growth of Rs. 1', rotation=90, fontsize=11, va='center', ha='center')

fig.savefig('out.png', dpi=300, facecolor=bg)
